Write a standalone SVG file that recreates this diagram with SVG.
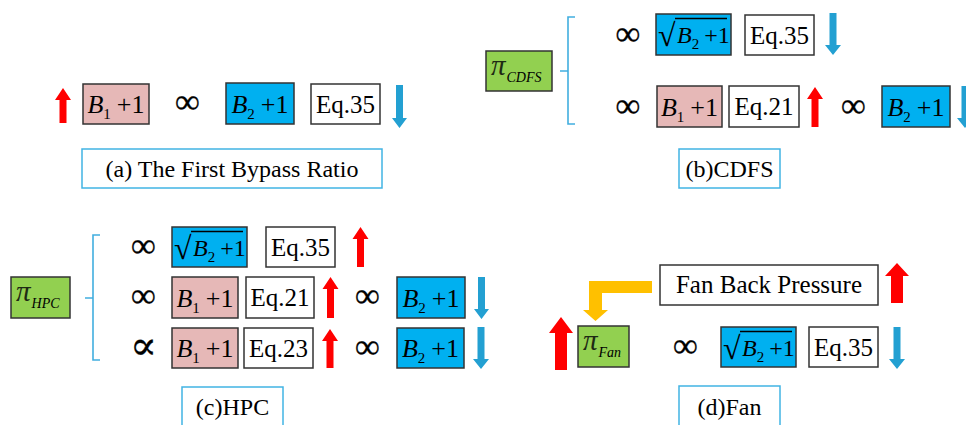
<svg xmlns="http://www.w3.org/2000/svg" width="966" height="425" viewBox="0 0 966 425">
<style>
text{font-family:"Liberation Serif","DejaVu Serif",serif;fill:#000}
.box{stroke:#333;stroke-width:1.5}
.pink{fill:#E6B8B7}
.blue{fill:#00B0F0}
.green{fill:#92D050}
.white{fill:#fff}
.cap{fill:#fff;stroke:#41B4E4;stroke-width:1.5}
.brace{fill:none;stroke:#41AEDF;stroke-width:1.6}
.eq{font-size:25px;text-anchor:middle}
.capt{font-size:24px;text-anchor:middle}
.m{font-size:26px;text-anchor:middle}
.ms{font-size:24px}
.rad{font-size:32px}
.i{font-style:italic}
.sub{font-size:15px}
.inf{font-size:35px;text-anchor:middle;stroke:#000;stroke-width:0.3}
.pi{font-size:29px;font-style:italic;fill:#1e2a14}
.pis{font-size:14px;font-style:italic}
.up{fill:#FF0000}
.down{fill:#23A0D2}
.vin{stroke:#000;stroke-width:1.3}
</style>

<!-- (a) -->
<g id="a-b1"><rect class="box pink" x="83" y="84" width="66" height="40"/><text class="m" x="116" y="112.5"><tspan class="i">B</tspan><tspan class="sub" dy="6">1</tspan><tspan dx="6" dy="-6">+1</tspan></text></g>
<g id="a-prop"><text class="inf" x="187.5" y="113">∞</text></g>
<g id="a-b2"><rect class="box blue" x="226" y="83" width="68" height="41"/><text class="m" x="260" y="112.5"><tspan class="i">B</tspan><tspan class="sub" dy="6">2</tspan><tspan dx="6" dy="-6">+1</tspan></text></g>
<g id="a-eq35"><rect class="box white" x="311" y="84" width="69" height="40"/><text class="eq" x="345.5" y="112.5">Eq.35</text></g>
<g id="a-caption"><rect class="cap" x="82" y="149" width="300" height="39"/><text class="capt" x="232" y="177">(a) The First Bypass Ratio</text></g>

<!-- (b) -->
<g id="b-pi"><rect class="box green" x="486" y="51" width="66" height="40"/><text x="491" y="75"><tspan class="pi">π</tspan><tspan class="pis" dx="1" dy="7">CDFS</tspan></text></g>
<g id="b-brace"><path class="brace" d="M575,17 H568 V124 H575 M568,71 H560"/></g>
<g id="b-r1-prop"><text class="inf" x="628" y="45">∞</text></g>
<g id="b-r1-sqrt"><rect class="box blue" x="656" y="14" width="75" height="41"/><text class="rad" x="658" y="46">√</text><line class="vin" x1="675" y1="18.5" x2="727" y2="18.5"/><text class="ms" x="677" y="43"><tspan class="i">B</tspan><tspan class="sub" dy="6">2</tspan><tspan dx="5" dy="-6">+1</tspan></text></g>
<g id="b-r1-eq35"><rect class="box white" x="745" y="15" width="69" height="40"/><text class="eq" x="779.5" y="43.5">Eq.35</text></g>
<g id="b-r2-prop"><text class="inf" x="628" y="117">∞</text></g>
<g id="b-r2-b1"><rect class="box pink" x="657" y="86" width="65" height="41"/><text class="m" x="689.5" y="115.5"><tspan class="i">B</tspan><tspan class="sub" dy="6">1</tspan><tspan dx="6" dy="-6">+1</tspan></text></g>
<g id="b-r2-eq21"><rect class="box white" x="729" y="86" width="70" height="41"/><text class="eq" x="764" y="115">Eq.21</text></g>
<g id="b-r2-prop2"><text class="inf" x="853.5" y="117">∞</text></g>
<g id="b-r2-b2"><rect class="box blue" x="882" y="86" width="68" height="41"/><text class="m" x="916" y="115.5"><tspan class="i">B</tspan><tspan class="sub" dy="6">2</tspan><tspan dx="6" dy="-6">+1</tspan></text></g>
<g id="b-caption"><rect class="cap" x="679" y="149" width="101" height="39"/><text class="capt" x="729.5" y="177">(b)CDFS</text></g>

<!-- (c) -->
<g id="c-pi"><rect class="box green" x="11" y="277" width="59" height="41"/><text x="16" y="301"><tspan class="pi">π</tspan><tspan class="pis" dx="1" dy="7">HPC</tspan></text></g>
<g id="c-brace"><path class="brace" d="M100,235 H93 V360 H100 M93,298 H85"/></g>
<g id="c-r1-prop"><text class="inf" x="143.5" y="257">∞</text></g>
<g id="c-r1-sqrt"><rect class="box blue" x="172" y="227" width="75" height="40"/><text class="rad" x="174" y="259">√</text><line class="vin" x1="191" y1="231.5" x2="243" y2="231.5"/><text class="ms" x="193" y="256"><tspan class="i">B</tspan><tspan class="sub" dy="6">2</tspan><tspan dx="5" dy="-6">+1</tspan></text></g>
<g id="c-r1-eq35"><rect class="box white" x="266" y="227" width="69" height="40"/><text class="eq" x="300.5" y="255.5">Eq.35</text></g>
<g id="c-r2-prop"><text class="inf" x="143.5" y="307">∞</text></g>
<g id="c-r2-b1"><rect class="box pink" x="172" y="277" width="66" height="41"/><text class="m" x="205" y="306.5"><tspan class="i">B</tspan><tspan class="sub" dy="6">1</tspan><tspan dx="6" dy="-6">+1</tspan></text></g>
<g id="c-r2-eq21"><rect class="box white" x="246" y="277" width="68" height="41"/><text class="eq" x="280" y="306">Eq.21</text></g>
<g id="c-r2-prop2"><text class="inf" x="367.5" y="307">∞</text></g>
<g id="c-r2-b2"><rect class="box blue" x="397" y="277" width="68" height="41"/><text class="m" x="431" y="306.5"><tspan class="i">B</tspan><tspan class="sub" dy="6">2</tspan><tspan dx="6" dy="-6">+1</tspan></text></g>
<g id="c-r3-prop"><text class="inf" x="143.5" y="359" style="font-size:40px">∝</text></g>
<g id="c-r3-b1"><rect class="box pink" x="172" y="328" width="66" height="40"/><text class="m" x="205" y="357"><tspan class="i">B</tspan><tspan class="sub" dy="6">1</tspan><tspan dx="6" dy="-6">+1</tspan></text></g>
<g id="c-r3-eq23"><rect class="box white" x="244" y="328" width="69" height="40"/><text class="eq" x="278.5" y="356.5">Eq.23</text></g>
<g id="c-r3-prop2"><text class="inf" x="367.5" y="358">∞</text></g>
<g id="c-r3-b2"><rect class="box blue" x="397" y="328" width="67" height="40"/><text class="m" x="430.5" y="357"><tspan class="i">B</tspan><tspan class="sub" dy="6">2</tspan><tspan dx="6" dy="-6">+1</tspan></text></g>
<g id="c-caption"><rect class="cap" x="182" y="387" width="101" height="45"/><text class="capt" x="232.5" y="415">(c)HPC</text></g>

<!-- (d) -->
<g id="d-fbp"><rect class="box white" x="660" y="265" width="218" height="40"/><text class="eq" x="769" y="293">Fan Back Pressure</text></g>
<g id="d-pi"><rect class="box green" x="578" y="326" width="51" height="41"/><text x="583" y="350"><tspan class="pi">π</tspan><tspan class="pis" dx="1" dy="7">Fan</tspan></text></g>
<g id="d-prop"><text class="inf" x="685.5" y="357">∞</text></g>
<g id="d-sqrt"><rect class="box blue" x="721" y="327" width="75" height="40"/><text class="rad" x="723" y="359">√</text><line class="vin" x1="740" y1="331.5" x2="792" y2="331.5"/><text class="ms" x="742" y="356"><tspan class="i">B</tspan><tspan class="sub" dy="6">2</tspan><tspan dx="5" dy="-6">+1</tspan></text></g>
<g id="d-eq35"><rect class="box white" x="809" y="327" width="69" height="40"/><text class="eq" x="843.5" y="355.5">Eq.35</text></g>
<g id="d-caption"><rect class="cap" x="679" y="386" width="101" height="45"/><text class="capt" x="729.5" y="415">(d)Fan</text></g>

<!-- trend arrows and connector -->
<g id="connectors">
<polygon class="up" points="63,88 71,100 66.5,100 66.5,123 59.5,123 59.5,100 55,100"/>
<polygon class="down" points="399.5,128 407,118 403,118 403,85 396,85 396,118 392,118"/>
<polygon class="down" points="833,55 841,45 836.5,45 836.5,13 829.5,13 829.5,45 825,45"/>
<polygon class="up" points="815,87 823,99 818.5,99 818.5,127 811.5,127 811.5,99 807,99"/>
<polygon class="down" points="965,128 973,118 968.5,118 968.5,86 961.5,86 961.5,118 957,118"/>
<polygon class="up" points="360.5,227 368.5,239 364,239 364,267 357,267 357,239 352.5,239"/>
<polygon class="up" points="330.5,277 338.5,289 334,289 334,318 327,318 327,289 322.5,289"/>
<polygon class="down" points="481.5,319 489,309 485,309 485,277 478,277 478,309 474,309"/>
<polygon class="up" points="330,329 338,341 333.5,341 333.5,368 326.5,368 326.5,341 322,341"/>
<polygon class="down" points="481,369 489,359 484.5,359 484.5,327 477.5,327 477.5,359 473,359"/>
<polygon class="up" points="897,263 909,276 903,276 903,303 891,303 891,276 885,276"/>
<polygon class="up" points="561,317 573,333 567,333 567,370 555,370 555,333 549,333"/>
<polygon class="down" points="897,369 905,359 900.5,359 900.5,327 893.5,327 893.5,359 889,359"/>
<polygon id="fbp-to-pi" fill="#FFC000" points="652,281 652,293 602,293 602,310 608,310 595.5,321 583,310 589,310 589,281"/>
</g>
</svg>
